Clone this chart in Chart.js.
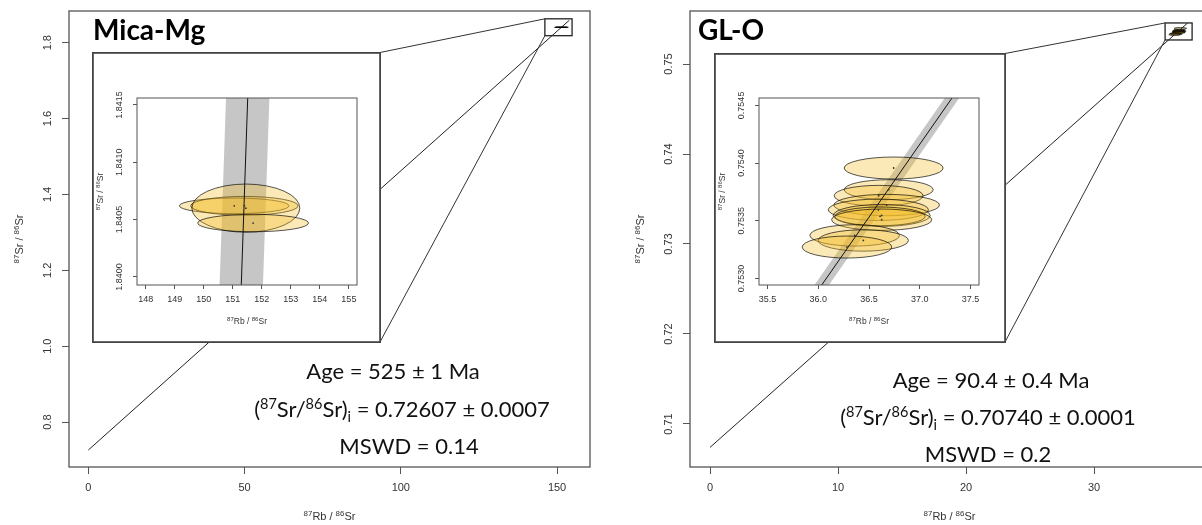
<!DOCTYPE html>
<html>
<head>
<meta charset="utf-8">
<script src="https://cdn.jsdelivr.net/npm/chart.js@4.4.1/dist/chart.umd.min.js"></script>
<style>
  html, body { margin: 0; padding: 0; background: #fff; overflow: hidden; }
  #wrap { position: relative; width: 1202px; height: 525px; overflow: hidden; background: #fff; }
  #wrap canvas { position: absolute; display: block; }
</style>
</head>
<body>
<div id="wrap">
  <canvas id="micaMain"></canvas>
  <canvas id="glMain"></canvas>
  <canvas id="micaInset"></canvas>
  <canvas id="glInset"></canvas>
</div>
<script>
// Rb–Sr isochron diagrams with magnified insets of the analysed spots.
const LAMBDA_RB87 = 1.3972e-11; // 87Rb decay constant, per year

// ---------- Mica-Mg ----------
const micaRb    = [151.05, 151.40, 151.45, 151.70];        // 87Rb/86Sr
const micaSr    = [1.84062, 1.84062, 1.84060, 1.84047];    // 87Sr/86Sr
const micaRbErr = [1.89, 1.85, 1.86, 1.91];                // ellipse half-width
const micaSrErr = [0.000068, 0.000082, 0.00021, 0.000076]; // ellipse half-height
const micaAge   = [525, 1];           // Ma, ±
const micaSri   = [0.72607, 0.0007];  // initial 87Sr/86Sr, ±
const micaMswd  = 0.14;
const micaEnvelope = 0.0055;          // half-width of the isochron envelope
const micaFitRange = [0, 153.9];
const micaZoomX = [146.1, 154.8];
const micaZoomY = [1.8185, 1.863];
const micaXTicks = [0, 50, 100, 150];
const micaYTicks = [0.8, 1.0, 1.2, 1.4, 1.6, 1.8];
const micaInsetXTicks = [148, 149, 150, 151, 152, 153, 154, 155];
const micaInsetYTicks = [1.8400, 1.8405, 1.8410, 1.8415];

// ---------- GL-O ----------
const glRb    = [36.743, 36.694, 36.595, 36.674, 36.592, 36.625, 36.609, 36.625, 36.359, 36.444, 36.283];
const glSr    = [0.753957, 0.753769, 0.753717, 0.753636, 0.753595, 0.753546, 0.753538, 0.753509, 0.753373, 0.753329, 0.753272];
const glRbErr = [0.487, 0.438, 0.438, 0.520, 0.493, 0.477, 0.444, 0.493, 0.441, 0.444, 0.441];
const glSrErr = [0.0000954, 0.0000867, 0.0000896, 0.0000925, 0.0000925, 0.0000954, 0.000081, 0.0000925, 0.0000925, 0.0000925, 0.0000954];
const glAge   = [90.4, 0.4];
const glSri   = [0.70740, 0.0001];
const glMswd  = 0.2;
const glEnvelope = 0.00009;
const glFitRange = [0, 37.3];
const glZoomX = [35.55, 37.66];
const glZoomY = [0.75267, 0.75456];
const glXTicks = [0, 10, 20, 30];
const glYTicks = [0.71, 0.72, 0.73, 0.74, 0.75];
const glInsetXTicks = [35.5, 36.0, 36.5, 37.0, 37.5];
const glInsetYTicks = [0.7530, 0.7535, 0.7540, 0.7545];

// ---------- page layout (pixels) ----------
const H = 525;
const micaLayout = {
  left: 0, width: 601,
  area: { left: 69, top: 11, right: 590, bottom: 467 },
  x: [-6.18, 160.54], y: [0.6814, 1.8836],
  title: { x: 93, y: 40 },
  stats: { x: [393, 402, 409], y: [371, 409, 446] },
  inset: { left: 92, top: 52, width: 289, height: 291,
           area: { left: 45, top: 46, right: 265, bottom: 233 },
           x: [147.70, 155.28], y: [1.83993, 1.84156] }
};
const glLayout = {
  left: 601, width: 616,
  area: { left: 89, top: 11, right: 608, bottom: 467 },
  x: [-1.5625, 38.98], y: [0.705222, 0.755889],
  title: { x: 698, y: 40 },
  stats: { x: [991, 988, 988], y: [380, 417, 454] },
  inset: { left: 714, top: 53, width: 292, height: 290,
           area: { left: 45, top: 45, right: 265, bottom: 232 },
           x: [35.417, 37.583], y: [0.752943, 0.754564] }
};

const mica = {
  name: 'Mica-Mg', rb: micaRb, sr: micaSr, rbErr: micaRbErr, srErr: micaSrErr,
  age: micaAge, sri: micaSri, mswd: micaMswd, env: micaEnvelope, fit: micaFitRange,
  zoomX: micaZoomX, zoomY: micaZoomY,
  xTicks: micaXTicks, yTicks: micaYTicks, xDec: 0, yDec: 1,
  ixTicks: micaInsetXTicks, iyTicks: micaInsetYTicks, ixDec: 0, iyDec: 4
};
const gl = {
  name: 'GL-O', rb: glRb, sr: glSr, rbErr: glRbErr, srErr: glSrErr,
  age: glAge, sri: glSri, mswd: glMswd, env: glEnvelope, fit: glFitRange,
  zoomX: glZoomX, zoomY: glZoomY,
  xTicks: glXTicks, yTicks: glYTicks, xDec: 0, yDec: 2,
  ixTicks: glInsetXTicks, iyTicks: glInsetYTicks, ixDec: 1, iyDec: 4
};

const ELLIPSE_FILL = 'rgba(244, 189, 40, 0.33)';
const ELLIPSE_EDGE = 'rgba(0, 0, 0, 0.78)';
const TEXT = '#333';
const AXIS = '#555';

// Axis titles with superscript mass numbers: [text, 1 = sup, -1 = sub, 0 = normal]
const RB_TITLE = [['87', 1], ['Rb / ', 0], ['86', 1], ['Sr', 0]];
const SR_TITLE = [['87', 1], ['Sr / ', 0], ['86', 1], ['Sr', 0]];

const slopeOf = d => Math.expm1(LAMBDA_RB87 * d.age[0] * 1e6);

function richText(ctx, parts, x, y, size, opts = {}) {
  const family = opts.family || 'Liberation Sans';
  const weight = opts.weight || 'normal';
  const small = size * (opts.scale || 0.72);
  ctx.save();
  ctx.translate(x, y);
  if (opts.rotate) ctx.rotate(opts.rotate);
  ctx.fillStyle = opts.color || TEXT;
  ctx.textBaseline = 'alphabetic';
  ctx.textAlign = 'left';
  const fontOf = m => `${weight} ${m ? small : size}px "${family}"`;
  const widths = parts.map(([t, m]) => { ctx.font = fontOf(m); return ctx.measureText(t).width; });
  const total = widths.reduce((s, w) => s + w, 0);
  let cx = -total / 2;
  const base = size * 0.36;
  parts.forEach(([t, m], i) => {
    ctx.font = fontOf(m);
    const dy = m === 1 ? -size * 0.37 : m === -1 ? size * 0.24 : 0;
    ctx.fillText(t, cx, base + dy);
    cx += widths[i];
  });
  ctx.restore();
}

function drawEllipses(chart, d) {
  const { ctx, chartArea: a, scales: { x, y } } = chart;
  ctx.save();
  ctx.beginPath();
  ctx.rect(a.left, a.top, a.right - a.left, a.bottom - a.top);
  ctx.clip();
  d.rb.forEach((rb, i) => {
    const cx = x.getPixelForValue(rb), cy = y.getPixelForValue(d.sr[i]);
    const rx = Math.abs(x.getPixelForValue(rb + d.rbErr[i]) - cx);
    const ry = Math.abs(y.getPixelForValue(d.sr[i] + d.srErr[i]) - cy);
    ctx.beginPath();
    ctx.ellipse(cx, cy, rx, Math.max(ry, 0.2), 0, 0, Math.PI * 2);
    ctx.fillStyle = ELLIPSE_FILL;
    ctx.fill();
    ctx.lineWidth = 0.85;
    ctx.strokeStyle = ELLIPSE_EDGE;
    ctx.stroke();
  });
  ctx.restore();
}

function tickLabels(ctx, scale, values, dec, pos, size, horizontal) {
  ctx.save();
  ctx.font = `${size}px "Liberation Sans"`;
  ctx.fillStyle = TEXT;
  ctx.textAlign = 'center';
  ctx.textBaseline = 'middle';
  values.forEach(v => {
    const p = scale.getPixelForValue(v);
    if (horizontal) {
      ctx.fillText(v.toFixed(dec), p, pos);
    } else {
      ctx.save();
      ctx.translate(pos, p);
      ctx.rotate(-Math.PI / 2);
      ctx.fillText(v.toFixed(dec), 0, 0);
      ctx.restore();
    }
  });
  ctx.restore();
}

function axis(range, ticks, tickLen, size, position) {
  return {
    type: 'linear', position, min: range[0], max: range[1],
    afterBuildTicks: s => { s.ticks = ticks.map(value => ({ value })); },
    ticks: { display: false },
    grid: { drawOnChartArea: false, drawTicks: true, tickLength: tickLen, tickColor: AXIS, tickWidth: 1 },
    border: { display: false },
    afterFit: s => { if (position === 'bottom') s.height = size; else s.width = size; }
  };
}

function whiteBackground(chart) {
  const { ctx, width, height } = chart;
  ctx.save();
  ctx.fillStyle = '#fff';
  ctx.fillRect(0, 0, width, height);
  ctx.restore();
}

function statsLines(d) {
  return [
    [[`Age = ${d.age[0]} ± ${d.age[1]} Ma`, 0]],
    [['(', 0], ['87', 1], ['Sr/', 0], ['86', 1], ['Sr)', 0], ['i', -1],
     [` = ${d.sri[0].toFixed(5)} ± ${d.sri[1].toFixed(4)}`, 0]],
    [[`MSWD = ${d.mswd}`, 0]]
  ];
}

function mainDecor(L, d) {
  return {
    id: 'mainDecor',
    beforeDraw: whiteBackground,
    afterDatasetsDraw(chart) {
      const { ctx, chartArea: a, scales: { x, y } } = chart;
      drawEllipses(chart, d);

      // magnified region and its leader lines to the inset
      const bx0 = x.getPixelForValue(d.zoomX[0]), bx1 = x.getPixelForValue(d.zoomX[1]);
      const byTop = y.getPixelForValue(d.zoomY[1]), byBot = y.getPixelForValue(d.zoomY[0]);
      const I = L.inset, ix = I.left + I.width - L.left - 1;
      ctx.save();
      ctx.strokeStyle = '#222';
      ctx.lineWidth = 1.3;
      ctx.strokeRect(bx0, byTop, bx1 - bx0, byBot - byTop);
      ctx.strokeStyle = '#333';
      ctx.lineWidth = 1;
      ctx.beginPath();
      ctx.moveTo(ix, I.top + 0.5); ctx.lineTo(bx0, byTop);
      ctx.moveTo(ix, I.top + I.height - 1); ctx.lineTo(bx0, byBot);
      ctx.stroke();

      // plot frame
      ctx.strokeStyle = AXIS;
      ctx.lineWidth = 1.3;
      ctx.strokeRect(a.left, a.top, a.right - a.left, a.bottom - a.top);
      ctx.restore();

      tickLabels(ctx, x, d.xTicks, d.xDec, a.bottom + 21, 11, true);
      tickLabels(ctx, y, d.yTicks, d.yDec, a.left - 21, 11, false);
      richText(ctx, RB_TITLE, (a.left + a.right) / 2, a.bottom + 49, 11);
      richText(ctx, SR_TITLE, a.left - 50, (a.top + a.bottom) / 2, 11, { rotate: -Math.PI / 2 });

      // sample name and regression results
      ctx.save();
      ctx.font = 'bold 28px Lato';
      ctx.fillStyle = '#000';
      ctx.textAlign = 'left';
      ctx.textBaseline = 'alphabetic';
      ctx.fillText(d.name, L.title.x - L.left, L.title.y);
      ctx.restore();
      statsLines(d).forEach((parts, i) =>
        richText(ctx, parts, L.stats.x[i] - L.left, L.stats.y[i], 22,
                 { family: 'Lato', color: '#111', scale: 0.66 }));
    }
  };
}

function insetDecor(I, d) {
  return {
    id: 'insetDecor',
    beforeDraw: whiteBackground,
    afterDatasetDraw(chart, args) {
      if (chart.data.datasets[args.index].label === 'envelope-lo') drawEllipses(chart, d);
    },
    afterDraw(chart) {
      const { ctx, chartArea: a, scales: { x, y }, width, height } = chart;
      ctx.save();
      ctx.strokeStyle = AXIS;
      ctx.lineWidth = 1;
      ctx.strokeRect(a.left, a.top, a.right - a.left, a.bottom - a.top);
      ctx.strokeStyle = '#444';
      ctx.lineWidth = 1.8;
      ctx.strokeRect(0.9, 0.9, width - 1.8, height - 1.8);
      ctx.restore();
      tickLabels(ctx, x, d.ixTicks, d.ixDec, a.bottom + 15, 9, true);
      tickLabels(ctx, y, d.iyTicks, d.iyDec, a.left - 17, 9, false);
      richText(ctx, RB_TITLE, (a.left + a.right) / 2, a.bottom + 36, 8.5);
      richText(ctx, SR_TITLE, 8, (a.top + a.bottom) / 2, 8.5, { rotate: -Math.PI / 2 });
    }
  };
}

function place(canvas, left, top, w, h) {
  canvas.width = w;
  canvas.height = h;
  canvas.style.left = left + 'px';
  canvas.style.top = top + 'px';
  canvas.style.width = w + 'px';
  canvas.style.height = h + 'px';
}

function mainChart(id, L, d) {
  const canvas = document.getElementById(id);
  place(canvas, L.left, 0, L.width, H);
  const m = slopeOf(d);
  const fit = d.fit.map(v => ({ x: v, y: d.sri[0] + m * v }));
  return new Chart(canvas, {
    type: 'scatter',
    data: { datasets: [{ label: 'isochron', data: fit, showLine: true,
                         borderColor: '#222', borderWidth: 1, pointRadius: 0 }] },
    options: {
      responsive: false, animation: false, events: [],
      layout: { padding: { left: 0, top: L.area.top, right: L.width - L.area.right, bottom: 0 } },
      plugins: { legend: { display: false }, tooltip: { enabled: false } },
      scales: {
        x: axis(L.x, d.xTicks, 7, H - L.area.bottom, 'bottom'),
        y: axis(L.y, d.yTicks, 7, L.area.left, 'left')
      }
    },
    plugins: [mainDecor(L, d)]
  });
}

function insetChart(id, L, d) {
  const I = L.inset;
  const canvas = document.getElementById(id);
  place(canvas, I.left, I.top, I.width, I.height);
  const m = slopeOf(d);
  const line = off => I.x.map(v => ({ x: v, y: d.sri[0] + m * v + off }));
  const pts = d.rb.map((v, i) => ({ x: v, y: d.sr[i] }));
  return new Chart(canvas, {
    type: 'scatter',
    data: {
      datasets: [
        { label: 'envelope-hi', data: line(d.env), showLine: true, fill: false,
          borderColor: 'rgba(0,0,0,0)', borderWidth: 0, pointRadius: 0, order: 5 },
        { label: 'envelope-lo', data: line(-d.env), showLine: true, fill: '-1',
          backgroundColor: 'rgba(120,120,120,0.42)', borderColor: 'rgba(0,0,0,0)',
          borderWidth: 0, pointRadius: 0, order: 4 },
        { label: 'isochron', data: line(0), showLine: true,
          borderColor: '#111', borderWidth: 1, pointRadius: 0, order: 2 },
        { label: 'analyses', data: pts, pointRadius: 0.9,
          pointBackgroundColor: '#333', pointBorderWidth: 0, order: 1 }
      ]
    },
    options: {
      responsive: false, animation: false, events: [],
      layout: { padding: { left: 0, top: I.area.top, right: I.width - I.area.right, bottom: 0 } },
      plugins: { legend: { display: false }, tooltip: { enabled: false } },
      scales: {
        x: axis(I.x, d.ixTicks, 4, I.height - I.area.bottom, 'bottom'),
        y: axis(I.y, d.iyTicks, 4, I.area.left, 'left')
      }
    },
    plugins: [insetDecor(I, d)]
  });
}

mainChart('micaMain', micaLayout, mica);
mainChart('glMain', glLayout, gl);
insetChart('micaInset', micaLayout, mica);
insetChart('glInset', glLayout, gl);
</script>
</body>
</html>
